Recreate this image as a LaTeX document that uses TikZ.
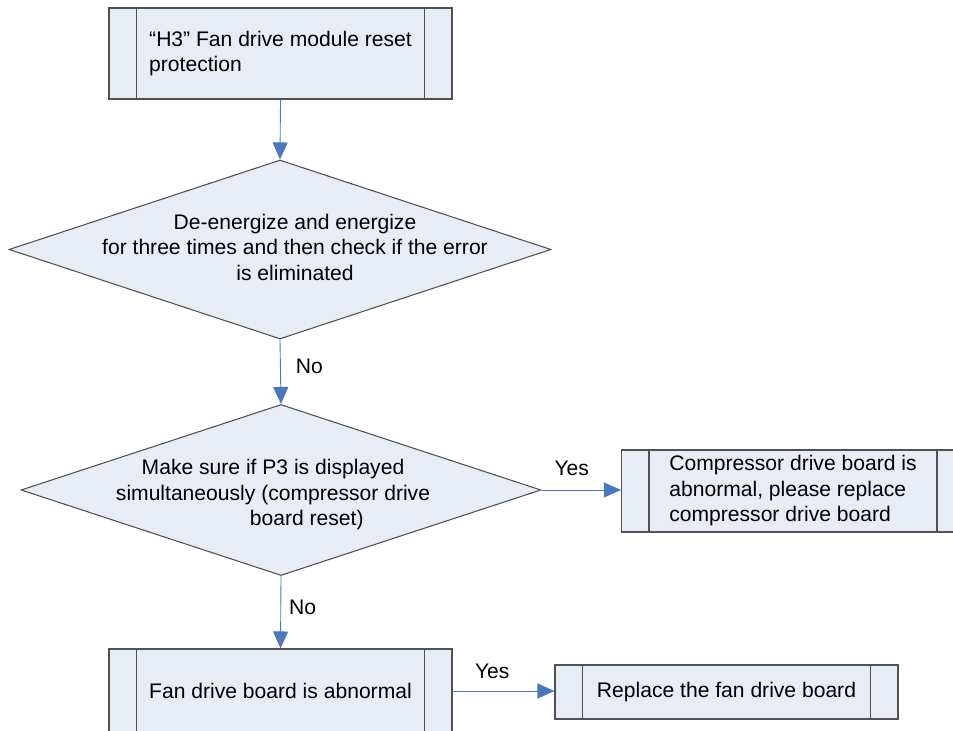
\documentclass[tikz,border=0pt]{standalone}
\usepackage{fontspec}
\setmainfont{Liberation Sans}
\usetikzlibrary{shapes.geometric, arrows.meta}
\definecolor{boxfill}{HTML}{E8ECF5}
\definecolor{boxline}{HTML}{505050}
\definecolor{flowblue}{HTML}{4A78BE}

\begin{document}
\begin{tikzpicture}[
    font=\fontsize{12}{14.5}\selectfont,
    procbox/.style={rectangle, draw=boxline, fill=boxfill, line width=0.6pt,
        inner sep=0pt, minimum width=6.86cm, align=left,
        path picture={\draw[boxline, line width=0.6pt]
            ([xshift=0.55cm]path picture bounding box.north west) -- ([xshift=0.55cm]path picture bounding box.south west)
            ([xshift=-0.55cm]path picture bounding box.north east) -- ([xshift=-0.55cm]path picture bounding box.south east);}},
    decision/.style={diamond, draw=boxline, fill=boxfill, line width=0.6pt, inner sep=0pt},
    flow/.style={draw=flowblue, line width=0.5pt, -{Triangle[length=0.34cm, width=0.3cm]}},
    lbl/.style={inner sep=0pt, text=black}
]
    \useasboundingbox (0,0) rectangle (19.06,-14.62);

    % Process boxes and decisions of the main column
    \node (b1) [procbox, minimum height=1.82cm] at (5.61,-1.07) {“H3” Fan drive module reset\\protection};
    \node (d1) [decision, minimum width=10.84cm, minimum height=3.58cm] at (5.6,-4.99) {};
    \node (t1) [align=center, inner sep=0pt] at (5.9,-4.94) {De-energize and energize\\for three times and then check if the error\\is eliminated};
    \node (d2) [decision, minimum width=10.4cm, minimum height=3.42cm] at (5.62,-9.8) {};
    \node (t2) [align=center, inner sep=0pt] at (5.46,-9.9) {Make sure if P3 is displayed\\simultaneously (compressor drive\\\hspace*{3.2em}board reset)};
    \node (b3) [procbox, minimum height=1.68cm] at (5.61,-13.82) {Fan drive board is abnormal};

    % Boxes on the right
    \node (b2) [procbox, minimum height=1.64cm] at (15.86,-9.82) {Compressor drive board is\\abnormal, please replace\\compressor drive board};
    \node (b4) [procbox, minimum height=1.08cm] at (14.53,-13.84) {Replace the fan drive board};

    % Draw the arrows
    \draw[flow] (b1.south) -- (d1.north);
    \draw[flow] (d1.south) -- node[lbl, right, xshift=0.3cm, pos=0.42] {No} (d2.north);
    \draw[flow] (d2.east) -- node[lbl, above, yshift=0.27cm, pos=0.38] {Yes} (d2.east -| b2.west);
    \draw[flow] (d2.south) -- node[lbl, right, xshift=0.16cm, pos=0.43] {No} (b3.north);
    \draw[flow] (b3.east) -- node[lbl, above, yshift=0.23cm, pos=0.39] {Yes} (b3.east -| b4.west);
\end{tikzpicture}
\end{document}
